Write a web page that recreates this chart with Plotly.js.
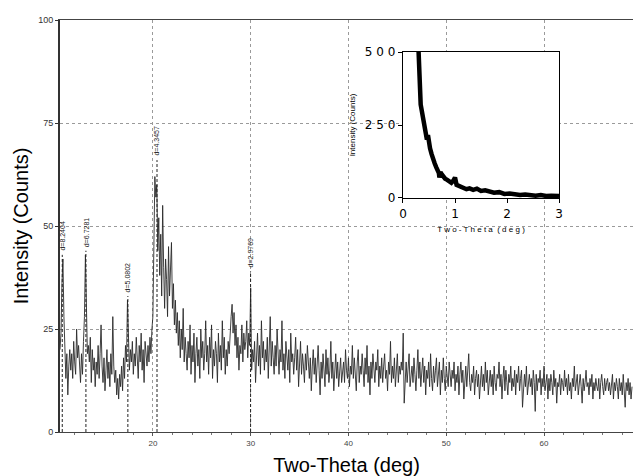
<!DOCTYPE html>
<html>
<head>
<meta charset="utf-8">
<script src="https://cdn.plot.ly/plotly-3.0.1.min.js"></script>
<style>html,body{margin:0;padding:0;background:#fff}#chart{width:635px;height:476px}</style>
</head>
<body>
<div id="chart"></div>
<script>
// ---- main XRD scan: start angle, step, and intensities ----
const scanStart = 10.5;
const scanStep = 0.1;
const intensity = [
  20,24,36,42,28,18,13,19,9,16,
  20,15,19,13,22,17,14,25,18,21,
  16,12,19,14,22,28,43,30,19,21,
  17,23,12,20,15,18,11,17,14,21,
  13,19,26,16,12,18,10,15,20,13,
  17,11,19,14,28,16,12,15,9,13,
  8,14,11,16,10,18,13,21,17,32,
  24,15,20,17,22,14,19,16,23,18,
  13,21,17,24,15,20,12,22,18,16,
  21,17,23,19,25,28,45,62,57,60,
  44,52,38,48,33,55,40,30,42,37,
  28,45,33,41,46,30,36,26,32,24,
  29,21,27,18,25,20,30,17,23,19,
  15,22,18,26,14,21,17,24,12,19,
  23,16,20,13,25,18,22,15,19,27,
  17,21,14,23,18,26,13,20,16,22,
  19,12,24,17,21,15,27,18,23,14,
  20,16,22,19,25,28,31,24,29,21,
  26,18,23,15,21,19,26,17,24,20,
  22,27,18,24,21,35,15,20,17,22,
  12,19,24,16,21,14,27,18,22,15,
  20,17,23,13,19,28,16,22,18,14,
  21,16,25,18,14,20,17,27,15,19,
  13,22,18,15,20,12,24,17,19,14,
  18,23,15,20,11,17,22,14,19,16,
  12,19,15,21,17,13,18,10,16,20,
  14,18,12,16,21,15,9,17,13,19,
  16,11,20,14,18,12,15,22,13,17,
  10,16,19,13,17,11,15,18,12,14,
  17,12,20,15,13,18,11,16,14,21,
  13,18,15,10,17,20,12,16,14,19,
  15,11,18,14,21,12,16,9,17,13,
  19,14,12,17,15,20,11,16,13,18,
  12,16,19,13,15,10,17,14,22,12,
  16,13,18,11,15,19,12,16,14,17,
  15,24,7,14,17,12,15,19,11,13,
  16,12,18,14,10,15,20,13,17,11,
  14,18,12,16,9,15,13,17,11,19,
  13,10,16,12,15,18,11,14,17,9,
  15,12,18,13,10,16,14,11,17,13,
  11,15,13,17,10,14,12,16,9,14,
  17,12,15,8,13,16,11,14,19,12,
  10,14,12,16,9,13,15,11,14,8,
  13,16,11,14,10,17,12,15,9,13,
  15,11,14,9,16,12,10,14,13,17,
  11,14,8,13,16,10,15,12,9,14,
  12,16,10,13,11,15,9,14,12,16,
  10,13,15,6,12,14,11,16,9,13,
  14,11,13,9,15,12,5,14,10,13,
  12,15,9,13,11,16,10,12,14,8,
  13,10,14,12,9,15,11,13,7,12,
  11,14,9,13,12,10,15,11,13,9,
  14,10,12,8,13,11,16,10,12,14,
  9,12,14,11,7,13,10,12,15,11,
  12,9,13,11,14,8,12,10,13,11,
  10,13,8,12,14,11,9,13,10,12,
  13,10,12,9,11,14,8,12,10,13,
  11,8,13,10,12,9,14,11,6,12,
  10,13,9,12,8,11
];
const twoTheta = intensity.map((_, i) => +(scanStart + i * scanStep).toFixed(2));

// ---- indexed peaks ----
const peakPos = [10.73, 13.15, 17.44, 20.42, 29.99];
const peakTop = [43, 44, 33, 66, 39];
const peakLabel = ["d=8.2404", "d=6.7281", "d=5.0802", "d=4.3457", "d=2.9769"];

// ---- inset: low-angle scan ----
const insetX = [0.30,0.31,0.32,0.33,0.34,0.36,0.38,0.40,0.42,0.44,0.46,0.48,0.50,0.52,0.55,0.58,0.61,0.64,0.67,0.69,0.70,0.72,0.75,0.78,0.81,0.85,0.89,0.93,0.97,1.00,1.03,1.07,1.12,1.17,1.22,1.28,1.35,1.42,1.50,1.58,1.66,1.75,1.85,1.95,2.05,2.15,2.25,2.35,2.45,2.55,2.65,2.75,2.85,2.95,3.00];
const insetY = [500,420,370,345,320,300,280,255,240,225,200,215,185,170,150,130,118,105,95,85,70,88,80,72,66,62,58,52,60,70,45,42,40,36,30,33,28,32,24,26,22,18,20,14,15,12,10,12,9,8,10,7,8,6,7];
const insetTicks = [0, 250, 500];

const mainX = ["20","30","40","50","60"];
const mainYTicks = [0, 25, 50, 75, 100];

const FONT = "Liberation Sans, Arial, sans-serif";

const traces = [
  {
    x: twoTheta, y: intensity, type: "scatter", mode: "lines",
    line: {color: "#2a2a2a", width: 0.9}, xaxis: "x", yaxis: "y", hoverinfo: "skip"
  },
  {
    x: insetX, y: insetY, type: "scatter", mode: "lines",
    line: {color: "#000", width: 4.5}, xaxis: "x2", yaxis: "y2", hoverinfo: "skip"
  }
];

const shapes = [
  // white panel behind the inset
  {type: "rect", xref: "x2 domain", yref: "y2 domain", x0: -0.37, x1: 1.1, y0: -0.26, y1: 1.2,
   fillcolor: "#fff", line: {width: 0}, layer: "below"}
];
peakPos.forEach((p, i) => {
  shapes.push({type: "line", xref: "x", yref: "y", x0: p, x1: p, y0: 0, y1: peakTop[i],
    line: {color: "#222", width: 1, dash: "3px,2px"}, layer: "above"});
});

const annotations = peakPos.map((p, i) => ({
  x: p, y: peakTop[i], xref: "x", yref: "y", text: peakLabel[i], showarrow: false,
  textangle: -90, yanchor: "bottom", xanchor: "center", yshift: 2,
  font: {family: FONT, size: 7, color: "#222"}
}));

const layout = {
  width: 635, height: 476,
  margin: {l: 60, r: 2, t: 20, b: 44},
  paper_bgcolor: "#fff", plot_bgcolor: "#fff",
  showlegend: false,
  font: {family: FONT, color: "#000"},
  xaxis: {
    range: [10.5, 69.1], tickvals: mainX.map(Number), ticktext: mainX,
    ticks: "outside", ticklen: 3, tickcolor: "#555",
    minor: {dtick: 2, tick0: 0, ticks: "outside", ticklen: 2, tickcolor: "#777", showgrid: false},
    showgrid: true, gridcolor: "#9a9a9a", griddash: "dot", gridwidth: 1,
    showline: true, linecolor: "#444", linewidth: 1, mirror: true,
    tickfont: {family: FONT, size: 8, color: "#444"},
    zeroline: false,
    title: {text: "Two-Theta (deg)", font: {family: FONT, size: 20, color: "#000"}, standoff: 12}
  },
  yaxis: {
    range: [0, 100], tickvals: mainYTicks,
    ticks: "outside", ticklen: 3, tickcolor: "#333",
    showgrid: true, gridcolor: "#9a9a9a", griddash: "dot", gridwidth: 1,
    showline: true, linecolor: "#333", linewidth: 2,
    tickfont: {family: FONT, size: 9, color: "#333"},
    zeroline: false,
    title: {text: "Intensity (Counts)", font: {family: FONT, size: 20, color: "#000"}, standoff: 4}
  },
  xaxis2: {
    domain: [0.5986, 0.8709], anchor: "y2", range: [0, 3], dtick: 1,
    ticks: "outside", ticklen: 4, tickcolor: "#000",
    showline: true, linecolor: "#000", linewidth: 1.2, mirror: true,
    showgrid: false, zeroline: false,
    tickfont: {family: "DejaVu Sans, sans-serif", size: 12, color: "#000"},
    title: {text: "T w o - T h e t a  ( d e g )", font: {family: FONT, size: 8, color: "#000"}, standoff: 6}
  },
  yaxis2: {
    domain: [0.568, 0.9223], anchor: "x2", range: [0, 500], tickvals: insetTicks,
    ticktext: insetTicks.map(v => String(v).split("").join(" ")),
    ticks: "outside", ticklen: 4, tickcolor: "#000",
    showline: true, linecolor: "#000", linewidth: 1.2, mirror: true,
    showgrid: false, zeroline: false,
    tickfont: {family: "DejaVu Sans, sans-serif", size: 12, color: "#000"},
    title: {text: "Intensity (Counts)", font: {family: FONT, size: 8, color: "#000"}, standoff: 8}
  },
  shapes: shapes,
  annotations: annotations
};

Plotly.newPlot("chart", traces, layout, {staticPlot: true, displayModeBar: false});
</script>
</body>
</html>
